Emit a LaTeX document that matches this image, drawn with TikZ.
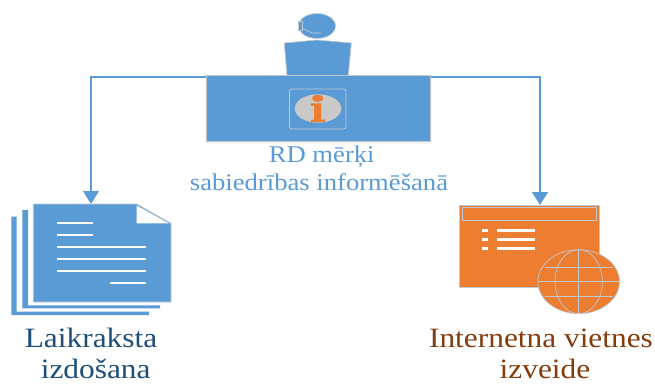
\documentclass[tikz,border=0pt]{standalone}
\usepackage{fontspec}
\setmainfont{Liberation Serif}
\usetikzlibrary{arrows.meta,shapes.geometric}
\definecolor{bl}{HTML}{5B9BD5}
\definecolor{or}{HTML}{ED7D31}
\definecolor{edge}{HTML}{C0CAD3}
\definecolor{navy}{HTML}{1F4E79}
\definecolor{brown}{HTML}{843C0C}
\definecolor{iconGray}{HTML}{C9C9C9}
\tikzset{
  blueshape/.style={fill=bl,draw=edge,line width=0.7pt},
  orangeshape/.style={fill=or,draw=edge,line width=0.7pt},
  conn/.style={draw=bl,line width=1.3pt,-{Triangle[length=13pt,width=16pt]}},
  whitebar/.style={draw=white,line width=2.2pt},
  grid/.style={draw=edge,line width=0.7pt},
  lab/.style={anchor=base,inner sep=0pt},
  softshade/.style={fill=black,opacity=0.04,draw=none},
  boxnode/.style={rectangle,inner sep=0pt,outer sep=0pt}
}
\newcommand{\stretched}[2]{\scalebox{#1}[1]{#2}}
\begin{document}
\begin{tikzpicture}[x=1pt,y=-1pt]
\useasboundingbox (0,0) rectangle (655,383);
% connector end points
\coordinate (deskL) at (206,77);
\coordinate (deskR) at (430,77);
\coordinate (docTop) at (91,204);
\coordinate (webTop) at (540,205);
\coordinate (bendL) at (91,77);
\coordinate (bendR) at (540,77);
% person
\draw[blueshape] (284.3,43) -- (317,40) -- (351.3,43) -- (348.3,75.5) -- (287,75.5) -- cycle;
\draw[blueshape] (317,26) ellipse[x radius=18.5,y radius=12.5];
\draw[blueshape] (298.5,21.5) rectangle (302,30);
\draw[draw=edge,line width=0.8pt] (302,28) -- (312,33) -- (321,33);
% connectors
\draw[conn] (deskL) -- (bendL) -- (docTop);
\draw[conn] (deskR) -- (bendR) -- (webTop);
% desk
\fill[softshade] (205,77) rectangle (432,143.5);
\node[boxnode,blueshape,minimum width=224pt,minimum height=65.5pt] (desk) at (318,108.2) {};
\node[boxnode,draw=edge,line width=0.7pt,rounded corners=2.5pt,minimum width=56.5pt,minimum height=40pt] (iconframe) at (317.7,109) {};
\node[ellipse,inner sep=0pt,fill=iconGray,minimum width=46.5pt,minimum height=28.5pt] (icondisc) at (318,108.5) {};
\fill[or] (317.7,98.3) ellipse[x radius=5.7,y radius=3.6];
\fill[or] (310.8,103.3) -- (321.2,103.3) -- (321.2,119.5) -- (325,119.5) -- (325,122) -- (310.8,122) -- (310.8,119.5) -- (314.2,119.5) -- (314.2,105.8) -- (310.8,105.8) -- cycle;
% desk caption
\node[lab,text=bl,font=\fontsize{24}{28}\selectfont] (cap1) at (321.7,162.5) {\stretched{1.11}{RD mērķi}};
\node[lab,text=bl,font=\fontsize{24}{28}\selectfont] (cap2) at (319,190) {\stretched{1.11}{sabiedrības informēšanā}};
% document stack
\fill[bl] (11.3,216.7) -- (16.7,216.7) -- (16.7,311.7) -- (149,311.7) -- (149,315) -- (11.3,315) -- cycle;
\fill[bl] (22.3,210) -- (28,210) -- (28,305.3) -- (160,305.3) -- (160,308.3) -- (22.3,308.3) -- cycle;
\draw[blueshape] (33.3,204) -- (136.7,204) -- (171,223.3) -- (171,302) -- (33.3,302) -- cycle;
\fill[white] (136.7,205.5) -- (136.7,223.3) -- (169,223.3) -- cycle;
\draw[whitebar] (57,223.3) -- (92.7,223.3);
\draw[whitebar] (57,235) -- (92.7,235);
\draw[whitebar] (57,247.3) -- (146,247.3);
\draw[whitebar] (57,259.3) -- (146,259.3);
\draw[whitebar] (57,271) -- (146,271);
\draw[whitebar] (110,283) -- (146,283);
\node[lab,text=navy,font=\fontsize{28}{32}\selectfont] (l1) at (91,347) {\stretched{1.12}{Laikraksta}};
\node[lab,text=navy,font=\fontsize{28}{32}\selectfont] (l2) at (95.7,378) {\stretched{1.12}{izdošana}};
% web page
\node[boxnode,orangeshape,minimum width=140pt,minimum height=82pt] (web) at (529.7,246.3) {};
\draw[grid] (462.7,207.3) rectangle (596.7,220.7);
\foreach \yy in {230.3,239.7,248.7}{
  \fill[white] (481.7,\yy-1.7) rectangle (488.3,\yy+1.7);
  \fill[white] (497,\yy-1.7) rectangle (535,\yy+1.7);
}
% globe
\node[ellipse,inner sep=0pt,orangeshape,minimum width=81.6pt,minimum height=64pt] (globe) at (578.7,281.7) {};
\draw[grid] (globe.center) ellipse[x radius=23.7,y radius=32];
\draw[grid] (globe.north) -- (globe.south);
\draw[grid] (globe.west) -- (globe.east);
\draw[grid] (544.5,267.3) -- (612.9,267.3);
\draw[grid] (544.5,296.3) -- (612.9,296.3);
\node[lab,text=brown,font=\fontsize{28}{32}\selectfont] (w1) at (541,347) {\stretched{1.12}{Internetna vietnes}};
\node[lab,text=brown,font=\fontsize{28}{32}\selectfont] (w2) at (545,378) {\stretched{1.12}{izveide}};
\end{tikzpicture}
\end{document}
